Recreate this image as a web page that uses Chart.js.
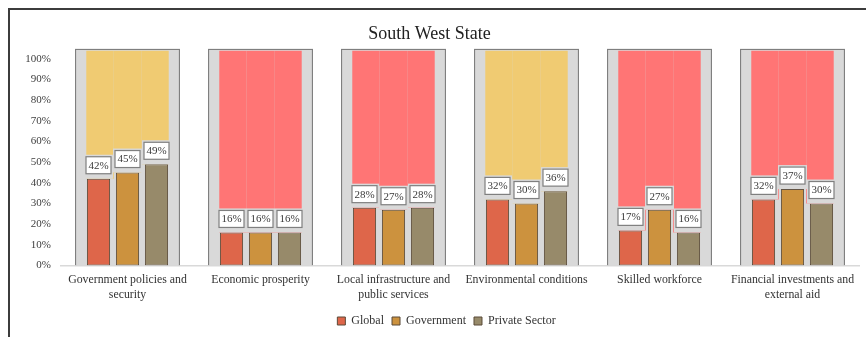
<!DOCTYPE html>
<html>
<head>
<meta charset="utf-8">
<script src="https://cdn.jsdelivr.net/npm/chart.js@4/dist/chart.umd.min.js"></script>
<style>
  html, body { margin: 0; padding: 0; background: #fff; }
  #wrap { position: relative; width: 866px; height: 337px; overflow: hidden; }
  #frame { position: absolute; left: 8px; top: 8px; width: 900px; height: 400px; border: 2px solid #3c3c3c; box-sizing: border-box; }
  canvas { position: absolute; left: 0; top: 0; }
</style>
</head>
<body>
<div id="wrap">
  <div id="frame"></div>
  <canvas id="c" width="866" height="337"></canvas>
</div>
<script>
// ---- data ----
const title = "South West State";
const categories = [
  ["Government policies and", "security"],
  ["Economic prosperity"],
  ["Local infrastructure and", "public services"],
  ["Environmental conditions"],
  ["Skilled workforce"],
  ["Financial investments and", "external aid"]
];
const seriesNames = ["Global", "Government", "Private Sector"];
const globalVals = [42, 16, 28, 32, 17, 32];
const governmentVals = [45, 16, 27, 30, 27, 37];
const privateVals = [49, 16, 28, 36, 16, 30];
const backdropTone = ["yellow", "red", "red", "yellow", "red", "red"];
const yTickValues = [0, 10, 20, 30, 40, 50, 60, 70, 80, 90, 100];

// ---- styling ----
const FONT = "'Liberation Serif', 'DejaVu Serif', serif";
const seriesColors = ["#DE664A", "#CC923E", "#978A6A"];
const toneColors = { yellow: "#F0CB72", red: "#FF7575" };
const fillTop = 104;   // coloured backdrop reaches just under the grey frame
const frameTop = 105;  // grey panel height (axis max)

const valueSets = [globalVals, governmentVals, privateVals];
const stacks = ["s0", "s1", "s2"];

const datasets = [];
// grey panels
datasets.push({
  label: "_panel",
  data: categories.map(() => frameTop),
  backgroundColor: "#D9D9D9",
  borderColor: "#7F7F7F",
  borderWidth: { top: 1.5, left: 1.5, right: 1.5, bottom: 0 },
  borderSkipped: false,
  grouped: false,
  stack: "bg",
  categoryPercentage: 1,
  barPercentage: 0.79,
  order: 3
});
// value bars
valueSets.forEach((vals, i) => {
  datasets.push({
    label: seriesNames[i],
    data: vals,
    backgroundColor: seriesColors[i],
    borderColor: "#5A4A38",
    borderWidth: 1,
    borderSkipped: false,
    stack: stacks[i],
    categoryPercentage: 0.654,
    barPercentage: 0.8,
    order: 1,
    isValue: true
  });
});
// coloured remainder above each value
valueSets.forEach((vals, i) => {
  datasets.push({
    label: "_rest" + i,
    data: vals.map(v => fillTop - v),
    backgroundColor: backdropTone.map(t => toneColors[t]),
    borderWidth: 0,
    stack: stacks[i],
    categoryPercentage: 0.62,
    barPercentage: 1.0,
    order: 2
  });
});

const labelPlugin = {
  id: "valueLabels",
  afterLayout(chart) {
    // centre the legend row under the plot like the reference
    if (chart.legend) { chart.legend.left += 17; chart.legend.right += 17; }
  },
  afterDatasetsDraw(chart) {
    const ctx = chart.ctx;
    ctx.save();
    ctx.font = "11px " + FONT;
    ctx.textAlign = "center";
    ctx.textBaseline = "middle";
    chart.data.datasets.forEach((ds, di) => {
      if (!ds.isValue) return;
      const meta = chart.getDatasetMeta(di);
      meta.data.forEach((bar, j) => {
        const txt = ds.data[j] + "%";
        const w = 25, h = 17, gap = 5;
        const bx = bar.x - w / 2;
        const by = bar.y - gap - h;
        // grey halo between label and bar
        ctx.fillStyle = "#D9D9D9";
        ctx.fillRect(bx - 2, by - 2, w + 4, bar.y - (by - 2));
        // label box
        ctx.fillStyle = "#FFFFFF";
        ctx.fillRect(bx, by, w, h);
        ctx.strokeStyle = "#7F7F7F";
        ctx.lineWidth = 1.2;
        ctx.strokeRect(bx, by, w, h);
        ctx.fillStyle = "#3A3A3A";
        ctx.fillText(txt, bar.x, by + h / 2 + 0.5);
      });
    });
    ctx.restore();
  }
};

new Chart(document.getElementById("c"), {
  type: "bar",
  data: { labels: categories, datasets },
  options: {
    responsive: false,
    animation: false,
    events: [],
    layout: { padding: { left: 0, right: 7, top: 0, bottom: 0 } },
    plugins: {
      tooltip: { enabled: false },
      title: {
        display: true,
        text: title,
        color: "#222",
        font: { family: FONT, size: 18, weight: "normal", lineHeight: 1.2 },
        padding: { top: 23, bottom: 4 }
      },
      legend: {
        display: true,
        position: "bottom",
        labels: {
          filter: (item, data) => data.datasets[item.datasetIndex].isValue === true,
          color: "#333",
          font: { family: FONT, size: 12 },
          boxWidth: 8,
          boxHeight: 8,
          padding: 8
        }
      }
    },
    scales: {
      x: {
        stacked: true,
        grid: { display: false, drawTicks: false, tickLength: 0 },
        border: { display: true, color: "#D9D9D9", width: 1.5 },
        ticks: {
          color: "#333",
          font: { family: FONT, size: 11.8, lineHeight: 1.22 },
          padding: 7.5,
          maxRotation: 0,
          autoSkip: false
        },
        afterFit(s) { s.height = 41.5; }
      },
      y: {
        stacked: true,
        min: 0,
        max: frameTop,
        grid: { display: false, drawTicks: false, tickLength: 0 },
        border: { display: false },
        afterBuildTicks(s) { s.ticks = yTickValues.map(v => ({ value: v })); },
        ticks: {
          color: "#404040",
          font: { family: FONT, size: 11 },
          padding: 10,
          callback: v => v + "%"
        },
        afterFit(s) { s.width = 61; }
      }
    }
  },
  plugins: [labelPlugin]
});
</script>
</body>
</html>
